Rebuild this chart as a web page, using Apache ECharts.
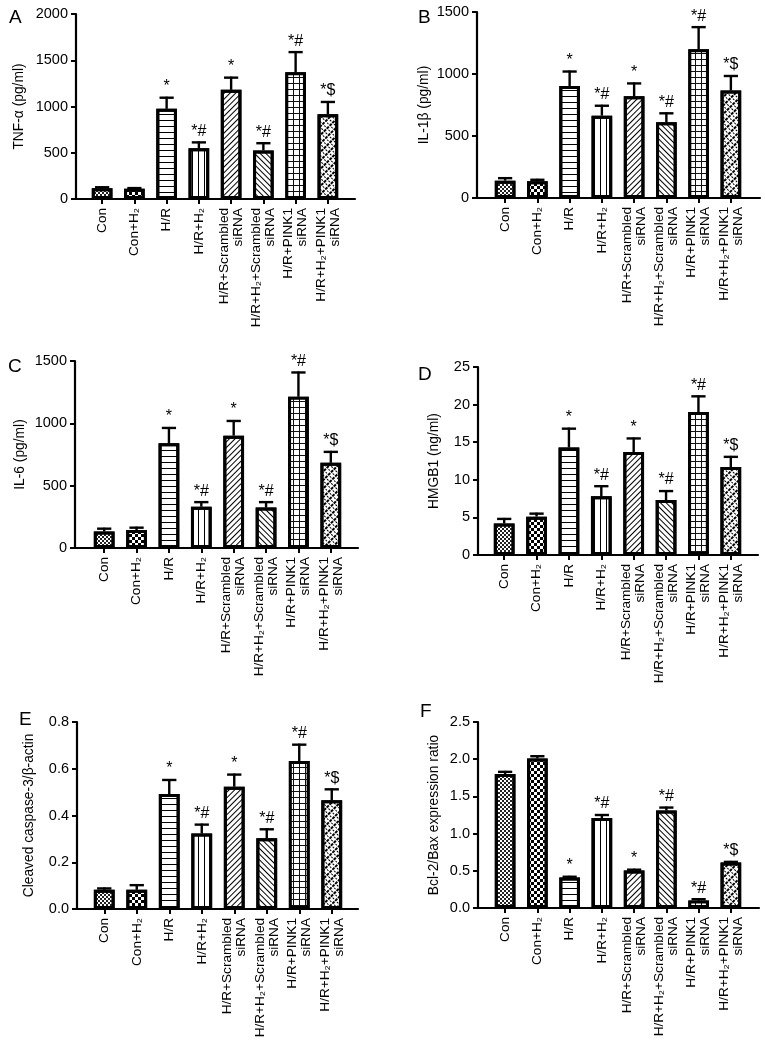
<!DOCTYPE html>
<html>
<head>
<meta charset="utf-8">
<script src="https://cdn.jsdelivr.net/npm/echarts@6/dist/echarts.min.js"></script>
<style>
html,body{margin:0;padding:0;background:#fff;}
#c{width:765px;height:1042px;}
</style>
</head>
<body>
<div id="c"></div>
<script>
// ---------- DATA ----------
const categories = ['Con', 'Con+H₂', 'H/R', 'H/R+H₂', 'H/R+Scrambled\nsiRNA', 'H/R+H₂+Scrambled\nsiRNA', 'H/R+PINK1\nsiRNA', 'H/R+H₂+PINK1\nsiRNA'];
const sigMarks = ['', '', '*', '*#', '*', '*#', '*#', '*$'];

const tnfMean = [115, 110, 975, 550, 1180, 525, 1370, 915];
const tnfErr  = [12, 8, 120, 62, 132, 78, 218, 134];

const il1Mean = [140, 135, 903, 664, 820, 611, 1200, 866];
const il1Err  = [20, 12, 117, 80, 104, 72, 178, 118];

const il6Mean = [133, 144, 840, 331, 901, 325, 1213, 683];
const il6Err  = [22, 19, 123, 37, 118, 43, 195, 88];

const hmgbMean = [4.2, 5.1, 14.3, 7.8, 13.7, 7.3, 19.0, 11.7];
const hmgbErr  = [0.6, 0.4, 2.5, 1.35, 1.8, 1.2, 2.1, 1.35];

const caspMean = [0.082, 0.082, 0.492, 0.323, 0.523, 0.303, 0.633, 0.465];
const caspErr  = [0.006, 0.02, 0.06, 0.038, 0.052, 0.038, 0.07, 0.047];

const bclMean = [1.80, 2.01, 0.41, 1.21, 0.505, 1.31, 0.10, 0.61];
const bclErr  = [0.03, 0.03, 0.01, 0.04, 0.01, 0.04, 0.018, 0.01];

const yTicksA = {min: 0, max: 2000, interval: 500};
const yTicksB = {min: 0, max: 1500, interval: 500};
const yTicksC = {min: 0, max: 1500, interval: 500};
const yTicksD = {min: 0, max: 25, interval: 5};
const yTicksE = {min: 0, max: 0.8, interval: 0.2};
const yTicksF = {min: 0, max: 2.5, interval: 0.5};

// ---------- STYLE / LAYOUT ----------
const FONT = "'Liberation Sans', Arial, Helvetica, sans-serif";
const PATTERNS = [
  {fill: '#fff', decal: {symbol: 'rect', symbolSize: 1, color: '#222', dashArrayX: [[1.4, 1.4], [0, 1.4, 1.4, 0]], dashArrayY: [1.4, 0]}},
  {fill: '#fff', decal: {symbol: 'rect', symbolSize: 1, color: '#000', dashArrayX: [[3, 3], [0, 3, 3, 0]], dashArrayY: [3, 0]}},
  {fill: '#fff', decal: {symbol: 'rect', symbolSize: 1, color: '#000', dashArrayX: [1, 0], dashArrayY: [1, 4.6]}},
  {fill: '#fff', decal: {symbol: 'rect', symbolSize: 1, color: '#000', dashArrayX: [1, 4.4], dashArrayY: [1, 0]}},
  {fill: '#fff', decal: {symbol: 'rect', symbolSize: 1, color: '#000', dashArrayX: [1, 0], dashArrayY: [1, 2.4], rotation: -Math.PI / 4}},
  {fill: '#fff', decal: {symbol: 'rect', symbolSize: 1, color: '#000', dashArrayX: [1, 0], dashArrayY: [1, 2.4], rotation: Math.PI / 4}},
  {fill: '#111', decal: {symbol: 'rect', symbolSize: 1, color: '#fff', dashArrayX: [4.4, 1], dashArrayY: [4.4, 1]}},
  {fill: '#fff', decal: {symbol: 'rect', symbolSize: 1, color: '#000', dashArrayX: [[2.5, 1], [1, 2.5]], dashArrayY: [1.1, 0.9], rotation: -Math.PI / 4}}
];

const panels = [
  {letter: 'A', lx: 4, ly: 3, name: 'TNF-α (pg/ml)', mean: tnfMean, err: tnfErr, ticks: yTicksA, dec: 0,
   yx: 76, bl: 86, br: 344, xe: 355, top: 14, bottom: 199, gap: 50},
  {letter: 'B', lx: 413, ly: 3, name: 'IL-1β (pg/ml)', mean: il1Mean, err: il1Err, ticks: yTicksB, dec: 0,
   yx: 477, bl: 489, br: 747, xe: 760, top: 12, bottom: 198, gap: 46},
  {letter: 'C', lx: 3, ly: 352, name: 'IL-6 (pg/ml)', mean: il6Mean, err: il6Err, ticks: yTicksC, dec: 0,
   yx: 75, bl: 88, br: 347, xe: 358, top: 361, bottom: 548, gap: 48},
  {letter: 'D', lx: 413, ly: 360, name: 'HMGB1 (ng/ml)', mean: hmgbMean, err: hmgbErr, ticks: yTicksD, dec: 0,
   yx: 478, bl: 488, br: 747, xe: 758, top: 367, bottom: 555, gap: 37},
  {letter: 'E', lx: 14, ly: 705, name: 'Cleaved caspase-3/β-actin', mean: caspMean, err: caspErr, ticks: yTicksE, dec: 1,
   yx: 77, bl: 88, br: 348, xe: 358, top: 722, bottom: 909, gap: 41},
  {letter: 'F', lx: 415, ly: 697, name: 'Bcl-2/Bax expression ratio', mean: bclMean, err: bclErr, ticks: yTicksF, dec: 1,
   yx: 478, bl: 489, br: 747, xe: 759, top: 722, bottom: 908, gap: 37}
];

const option = {
  animation: false,
  backgroundColor: '#fff',
  textStyle: {fontFamily: FONT, color: '#000'},
  title: [], grid: [], xAxis: [], yAxis: [], series: []
};

panels.forEach((p, k) => {
  option.title.push({text: p.letter, left: p.lx, top: p.ly,
    textStyle: {fontSize: 19, fontWeight: 'normal', fontFamily: FONT, color: '#000'}});
  const h = p.bottom - p.top;
  option.grid.push({left: p.yx, width: p.xe - p.yx, top: p.top, height: h, containLabel: false});
  option.grid.push({left: p.bl, width: p.br - p.bl, top: p.top, height: h, containLabel: false});
  option.xAxis.push({type: 'value', gridIndex: 2 * k, min: 0, max: 1,
    axisLine: {show: true, onZero: false, lineStyle: {color: '#000', width: 2.2}},
    axisTick: {show: false}, axisLabel: {show: false}, splitLine: {show: false}});
  option.xAxis.push({type: 'category', gridIndex: 2 * k + 1, data: categories,
    axisLine: {show: false},
    axisTick: {show: true, alignWithLabel: true, length: 5, lineStyle: {color: '#000', width: 2}},
    axisLabel: {interval: 0, rotate: 90, margin: 9, fontSize: 13.6, lineHeight: 14, color: '#000', fontFamily: FONT}});
  const dec = p.dec;
  option.yAxis.push({type: 'value', gridIndex: 2 * k, min: p.ticks.min, max: p.ticks.max, interval: p.ticks.interval,
    name: p.name, nameLocation: 'middle', nameGap: p.gap,
    nameTextStyle: {fontSize: 13.8, color: '#000', fontFamily: FONT},
    axisLine: {show: true, lineStyle: {color: '#000', width: 2.2}},
    axisTick: {show: true, length: 5, lineStyle: {color: '#000', width: 2}},
    axisLabel: {fontSize: 14.5, margin: 8, color: '#000', fontFamily: FONT,
      formatter: v => (dec ? v.toFixed(dec) : String(Math.round(v)))},
    splitLine: {show: false}});
  option.yAxis.push({type: 'value', gridIndex: 2 * k + 1, min: p.ticks.min, max: p.ticks.max, interval: p.ticks.interval,
    show: false, splitLine: {show: false}});

  option.series.push({type: 'bar', xAxisIndex: 2 * k + 1, yAxisIndex: 2 * k + 1, barWidth: '64%',
    data: p.mean.map((v, i) => ({value: v,
      itemStyle: {color: PATTERNS[i].fill, decal: PATTERNS[i].decal, borderColor: '#000', borderWidth: 3}})),
    z: 2});
  const errData = p.mean.map((v, i) => [i, v, p.err[i]]);
  option.series.push({type: 'custom', xAxisIndex: 2 * k + 1, yAxisIndex: 2 * k + 1, z: 5,
    data: errData,
    renderItem: (params, api) => {
      const i = api.value(0), m = api.value(1), e = api.value(2);
      const p0 = api.coord([i, m]);
      const p1 = api.coord([i, m + e]);
      const bw = api.size([1, 0])[0];
      const cw = bw * 0.44;
      const sig = sigMarks[params.dataIndex];
      const children = [
        {type: 'line', shape: {x1: p0[0], y1: p0[1], x2: p1[0], y2: p1[1] - 1}, style: {stroke: '#000', lineWidth: 2.4}},
        {type: 'line', shape: {x1: p1[0] - cw / 2, y1: p1[1], x2: p1[0] + cw / 2, y2: p1[1]}, style: {stroke: '#000', lineWidth: 2.4}}
      ];
      if (sig) {
        children.push({type: 'text', style: {text: sig, x: p1[0], y: p1[1] - 3, align: 'center', verticalAlign: 'bottom',
          fontSize: 16, fontFamily: FONT, fill: '#000'}});
      }
      return {type: 'group', children: children};
    }});
});

const chart = echarts.init(document.getElementById('c'), null, {renderer: 'canvas'});
chart.setOption(option);
</script>
</body>
</html>
